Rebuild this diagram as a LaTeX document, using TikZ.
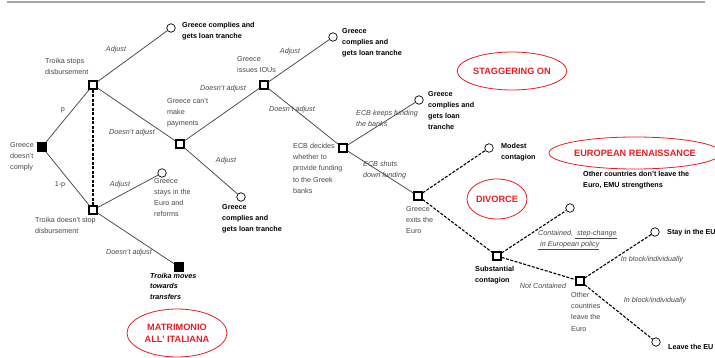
\documentclass[tikz,border=0pt]{standalone}
\usepackage{fontspec}
\setmainfont{Liberation Sans}
\usetikzlibrary{shapes.geometric}
\definecolor{scenred}{RGB}{230,30,35}
\tikzset{
  decision/.style={draw, rectangle, minimum size=8pt, inner sep=0pt, line width=1.3pt, fill=white},
  endsq/.style={rectangle, fill=black, minimum size=9.5pt, inner sep=0pt},
  outcome/.style={draw, circle, minimum size=8.5pt, inner sep=0pt, line width=0.7pt, fill=white},
  branch/.style={line width=0.75pt, color=black!72},
  dashbranch/.style={line width=1.1pt, dash pattern=on 3pt off 1.5pt},
  txt/.style={font=\fontsize{7.2}{11.2}\selectfont, color=black!72, inner sep=0pt, align=left, anchor=north west},
  btxt/.style={txt, font=\fontsize{7.2}{11.2}\selectfont\bfseries, color=black},
  itxt/.style={font=\fontsize{7.2}{11}\selectfont\itshape, color=black!72, inner sep=0pt, align=left},
  scen/.style={draw=scenred, ellipse, line width=0.8pt, text=scenred, font=\fontsize{9.2}{12}\selectfont\bfseries, align=center, inner sep=0pt}
}

\begin{document}
\begin{tikzpicture}[x=1pt, y=-1pt]
	%%%%% START %%%%%
	\useasboundingbox (0,0) rectangle (715,358);
	\draw[line width=1.5pt, color=black!35] (7,2) -- (705,2);
	
	% decision nodes
	\node[endsq] (nocomply) at (42,147) {};
	\node[decision] (tstop) at (93,85) {};
	\node[decision] (tnostop) at (93,210) {};
	\node[decision] (cantpay) at (180,144) {};
	\node[decision] (ious) at (264,85) {};
	\node[decision] (ecb) at (343,148) {};
	\node[decision] (exits) at (418,196) {};
	\node[decision] (subst) at (497,256) {};
	\node[decision] (others) at (580,281) {};
	\node[endsq] (transfers) at (179,267) {};
	
	% outcomes
	\node[outcome] (c1) at (171,28) {};
	\node[outcome] (c2) at (162,173) {};
	\node[outcome] (c3) at (241,197) {};
	\node[outcome] (c4) at (333,37) {};
	\node[outcome] (c5) at (419,100) {};
	\node[outcome] (c6) at (489,148) {};
	\node[outcome] (c7) at (570,208) {};
	\node[outcome] (c8) at (655,232) {};
	\node[outcome] (c9) at (656,342) {};
	
	% branches
	\draw[branch] (nocomply) -- (tstop);
	\draw[branch] (nocomply) -- (tnostop);
	\draw[dashbranch] (tstop) -- (tnostop);
	\draw[branch] (tstop) -- (c1);
	\draw[branch] (tstop) -- (cantpay);
	\draw[branch] (tnostop) -- (c2);
	\draw[branch] (tnostop) -- (transfers);
	\draw[branch] (cantpay) -- (c3);
	\draw[branch] (cantpay) -- (ious);
	\draw[branch] (ious) -- (c4);
	\draw[branch] (ious) -- (ecb);
	\draw[branch] (ecb) -- (c5);
	\draw[branch] (ecb) -- (exits);
	\draw[dashbranch] (exits) -- (c6);
	\draw[dashbranch] (exits) -- (subst);
	\draw[dashbranch] (subst) -- (c7);
	\draw[dashbranch] (subst) -- (others);
	\draw[dashbranch] (others) -- (c8);
	\draw[dashbranch] (others) -- (c9);
	
	% node texts
	\node[txt] (t1) at (10,142) {Greece\\doesn't\\comply};
	\node[txt] (t2) at (45,58) {Troika stops\\disbursement};
	\node[txt] (t3) at (35,217) {Troika doesn't stop\\disbursement};
	\node[txt] (t4) at (167,98) {Greece can't\\make\\payments};
	\node[txt] (t5) at (154,178) {Greece\\stays in the\\Euro and\\reforms};
	\node[txt] (t6) at (237,56) {Greece\\issues IOUs};
	\node[txt] (t7) at (293,143) {ECB decides\\whether to\\provide funding\\to the Greek\\banks};
	\node[txt] (t8) at (406,206) {Greece\\exits the\\Euro};
	\node[txt] (t9) at (571,292) {Other\\countries\\leave the\\Euro};
	
	% outcome texts
	\node[btxt] (o1) at (182,22) {Greece complies and\\gets loan tranche};
	\node[btxt] (o2) at (222,204) {Greece\\complies and\\gets loan tranche};
	\node[btxt] (o3) at (342,28) {Greece\\complies and\\gets loan tranche};
	\node[btxt] (o4) at (428,91) {Greece\\complies and\\gets loan\\tranche};
	\node[btxt] (o5) at (501,143) {Modest\\contagion};
	\node[btxt] (o6) at (475,266) {Substantial\\contagion};
	\node[btxt] (o7) at (583,171) {Other countries don't leave the\\Euro, EMU strengthens};
	\node[btxt, anchor=west] (o8) at (667,232.5) {Stay in the EU};
	\node[btxt, anchor=west] (o9) at (668,346.5) {Leave the EU};
	\node[btxt, font=\fontsize{7.2}{10.5}\selectfont\bfseries\itshape] (o10) at (150,273) {Troika moves\\towards\\transfers};
	
	% branch labels
	\node[itxt] (l1) at (116,50) {Adjust};
	\node[txt, anchor=center] (l2) at (63,110) {p};
	\node[itxt] (l3) at (132,133) {Doesn't adjust};
	\node[txt, anchor=center] (l4) at (60,185) {1-p};
	\node[itxt] (l5) at (120,185) {Adjust};
	\node[itxt] (l6) at (129,253) {Doesn't adjust};
	\node[itxt] (l7) at (226,161) {Adjust};
	\node[itxt] (l8) at (223,89) {Doesn't adjust};
	\node[itxt] (l9) at (290,52) {Adjust};
	\node[itxt] (l10) at (292,110) {Doesn't adjust};
	\node[itxt, anchor=north west] (l11) at (356,110) {ECB keeps funding\\the banks};
	\node[itxt, anchor=north west] (l12) at (363,161) {ECB shuts\\down funding};
	\node[itxt, anchor=north west] (l13) at (538,230) {Contained, \underline{\ step-change}\\\underline{\ in European policy}};
	\node[itxt] (l14) at (543,286) {Not Contained};
	\node[itxt] (l15) at (652,260) {In block/individually};
	\node[itxt] (l16) at (655,301) {In block/individually};
	
	% scenarios
	\node[scen, minimum width=100pt, minimum height=48pt] (s1) at (177,333) {MATRIMONIO\\ALL' ITALIANA};
	\node[scen, minimum width=102pt, minimum height=38pt] (s2) at (512,71) {STAGGERING ON};
	\node[scen, minimum width=60pt, minimum height=40pt] (s3) at (497,199) {DIVORCE};
	\node[scen, minimum width=155pt, minimum height=32pt] (s4) at (635,153) {EUROPEAN RENAISSANCE};
	%%%%% END %%%%%
\end{tikzpicture}
\end{document}
